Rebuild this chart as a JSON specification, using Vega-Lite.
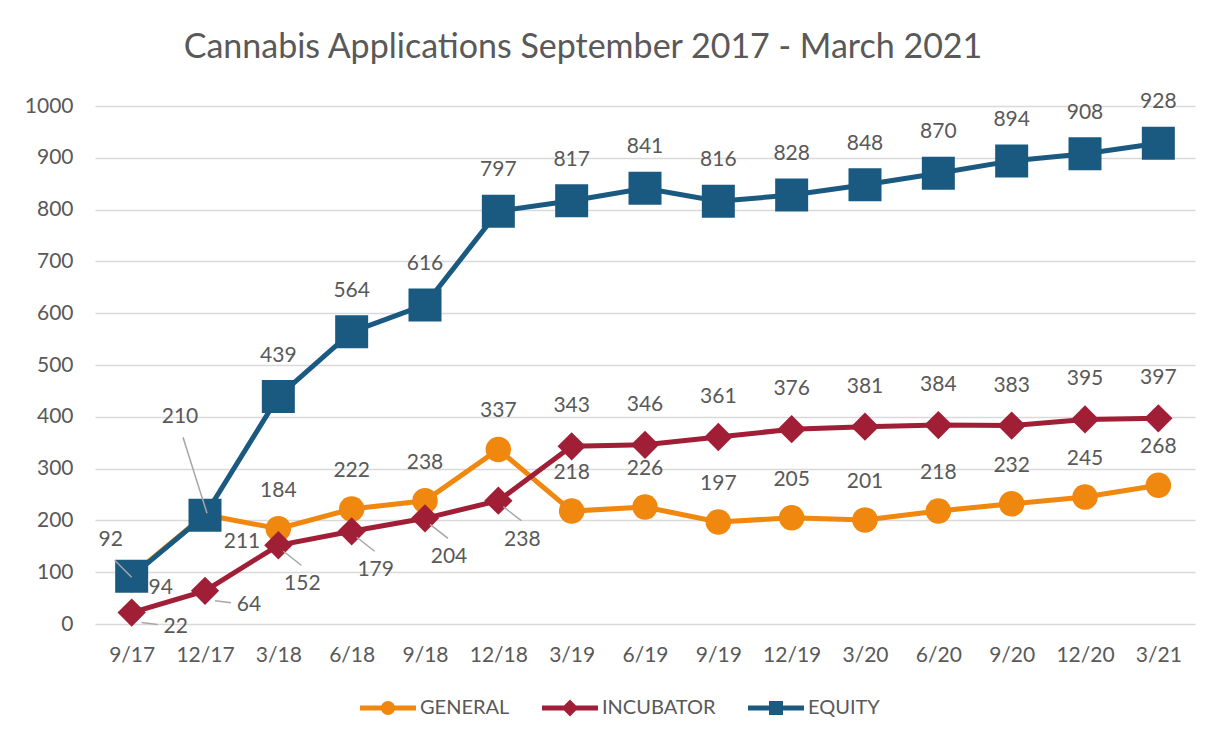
{
  "$schema": "https://vega.github.io/schema/vega-lite/v6.json",
  "width": 1100,
  "height": 518,
  "autosize": {"type": "none"},
  "padding": {"left": 95, "top": 106, "right": 11, "bottom": 118},
  "background": "white",
  "config": {"font": "Lato", "view": {"stroke": null}},
  "title": {"text": "Cannabis Applications September 2017 - March 2021", "fontSize": 34, "fontWeight": "normal", "color": "#595959", "anchor": "middle", "frame": "group", "dx": -62, "offset": 26, "font": "Lato"},
  "data": {"values": [
    {"date": "9/17", "series": "GENERAL", "value": 94},
    {"date": "12/17", "series": "GENERAL", "value": 211},
    {"date": "3/18", "series": "GENERAL", "value": 184},
    {"date": "6/18", "series": "GENERAL", "value": 222},
    {"date": "9/18", "series": "GENERAL", "value": 238},
    {"date": "12/18", "series": "GENERAL", "value": 337},
    {"date": "3/19", "series": "GENERAL", "value": 218},
    {"date": "6/19", "series": "GENERAL", "value": 226},
    {"date": "9/19", "series": "GENERAL", "value": 197},
    {"date": "12/19", "series": "GENERAL", "value": 205},
    {"date": "3/20", "series": "GENERAL", "value": 201},
    {"date": "6/20", "series": "GENERAL", "value": 218},
    {"date": "9/20", "series": "GENERAL", "value": 232},
    {"date": "12/20", "series": "GENERAL", "value": 245},
    {"date": "3/21", "series": "GENERAL", "value": 268},
    {"date": "9/17", "series": "INCUBATOR", "value": 22},
    {"date": "12/17", "series": "INCUBATOR", "value": 64},
    {"date": "3/18", "series": "INCUBATOR", "value": 152},
    {"date": "6/18", "series": "INCUBATOR", "value": 179},
    {"date": "9/18", "series": "INCUBATOR", "value": 204},
    {"date": "12/18", "series": "INCUBATOR", "value": 238},
    {"date": "3/19", "series": "INCUBATOR", "value": 343},
    {"date": "6/19", "series": "INCUBATOR", "value": 346},
    {"date": "9/19", "series": "INCUBATOR", "value": 361},
    {"date": "12/19", "series": "INCUBATOR", "value": 376},
    {"date": "3/20", "series": "INCUBATOR", "value": 381},
    {"date": "6/20", "series": "INCUBATOR", "value": 384},
    {"date": "9/20", "series": "INCUBATOR", "value": 383},
    {"date": "12/20", "series": "INCUBATOR", "value": 395},
    {"date": "3/21", "series": "INCUBATOR", "value": 397},
    {"date": "9/17", "series": "EQUITY", "value": 92},
    {"date": "12/17", "series": "EQUITY", "value": 210},
    {"date": "3/18", "series": "EQUITY", "value": 439},
    {"date": "6/18", "series": "EQUITY", "value": 564},
    {"date": "9/18", "series": "EQUITY", "value": 616},
    {"date": "12/18", "series": "EQUITY", "value": 797},
    {"date": "3/19", "series": "EQUITY", "value": 817},
    {"date": "6/19", "series": "EQUITY", "value": 841},
    {"date": "9/19", "series": "EQUITY", "value": 816},
    {"date": "12/19", "series": "EQUITY", "value": 828},
    {"date": "3/20", "series": "EQUITY", "value": 848},
    {"date": "6/20", "series": "EQUITY", "value": 870},
    {"date": "9/20", "series": "EQUITY", "value": 894},
    {"date": "12/20", "series": "EQUITY", "value": 908},
    {"date": "3/21", "series": "EQUITY", "value": 928}
  ]},
  "encoding": {
    "x": {"field": "date", "type": "ordinal", "sort": ["9/17","12/17","3/18","6/18","9/18","12/18","3/19","6/19","9/19","12/19","3/20","6/20","9/20","12/20","3/21"], "scale": {"type": "point", "padding": 0.5}, "axis": {"title": null, "labelAngle": 0, "labelFontSize": 21, "labelColor": "#595959", "labelPadding": 20, "ticks": false, "domain": false, "grid": false}},
    "y": {"field": "value", "type": "quantitative", "scale": {"domain": [0, 1000]}, "axis": {"title": null, "format": "d", "values": [0,100,200,300,400,500,600,700,800,900,1000], "labelFontSize": 21, "labelColor": "#595959", "labelPadding": 22, "ticks": false, "domain": false, "gridColor": "#D9D9D9", "gridWidth": 1.5}}
  },
  "layer": [
    {"transform": [{"filter": "datum.series === 'GENERAL'"}], "mark": {"type": "line", "strokeWidth": 5},
     "encoding": {"color": {"field": "series", "type": "nominal", "scale": {"domain": ["GENERAL","INCUBATOR","EQUITY"], "range": ["#F0870F","#A01F36","#1B5A80"]},
       "legend": {"title": null, "orient": "none", "legendX": 265, "legendY": 574, "direction": "horizontal", "symbolSize": 3136, "symbolStrokeWidth": 0, "labelFontSize": 20, "labelColor": "#595959", "labelOffset": 4, "columnPadding": 32,
         "encode": {"symbols": {"update": {"shape": {"signal": "datum.value === 'GENERAL' ? 'M-1,-0.09H1V0.09H-1Z M-0.25,0A0.25,0.25,0,1,1,0.25,0A0.25,0.25,0,1,1,-0.25,0Z' : datum.value === 'INCUBATOR' ? 'M-1,-0.09H1V0.09H-1Z M0,-0.3L0.3,0L0,0.3L-0.3,0Z' : 'M-1,-0.09H1V0.09H-1Z M-0.25,-0.25H0.25V0.25H-0.25Z'"}, "fill": {"scale": "color", "field": "value"}, "opacity": {"value": 1}}}}}}}},
    {"transform": [{"filter": "datum.series === 'GENERAL'"}], "mark": {"type": "point", "shape": "circle", "filled": true, "size": 650, "opacity": 1},
     "encoding": {"color": {"field": "series", "type": "nominal"}}},
    {"transform": [{"filter": "datum.series === 'INCUBATOR'"}], "mark": {"type": "line", "strokeWidth": 5},
     "encoding": {"color": {"field": "series", "type": "nominal"}}},
    {"transform": [{"filter": "datum.series === 'INCUBATOR'"}], "mark": {"type": "point", "shape": "diamond", "filled": true, "size": 800, "opacity": 1},
     "encoding": {"color": {"field": "series", "type": "nominal"}}},
    {"transform": [{"filter": "datum.series === 'EQUITY'"}], "mark": {"type": "line", "strokeWidth": 5},
     "encoding": {"color": {"field": "series", "type": "nominal"}}},
    {"transform": [{"filter": "datum.series === 'EQUITY'"}], "mark": {"type": "point", "shape": "square", "filled": true, "size": 1089, "opacity": 1},
     "encoding": {"color": {"field": "series", "type": "nominal"}}},
    {"transform": [{"filter": "datum.series === 'EQUITY' && datum.date === '9/17'"}], "mark": {"type": "rule", "color": "#A6A6A6", "strokeWidth": 1.5, "xOffset": -17, "yOffset": -16, "x2Offset": 0, "y2Offset": 1},
     "encoding": {"x2": {"field": "date"}, "y2": {"field": "value"}}},
    {"transform": [{"filter": "datum.series === 'EQUITY' && datum.date === '12/17'"}], "mark": {"type": "rule", "color": "#A6A6A6", "strokeWidth": 1.5, "xOffset": 2, "yOffset": -2, "x2Offset": -22, "y2Offset": -78},
     "encoding": {"x2": {"field": "date"}, "y2": {"field": "value"}}},
    {"transform": [{"filter": "datum.series === 'INCUBATOR' && indexof(['9/17','12/17'], datum.date) >= 0"}], "mark": {"type": "rule", "color": "#A6A6A6", "strokeWidth": 1.5, "xOffset": 10, "yOffset": 10, "x2Offset": 26, "y2Offset": 12},
     "encoding": {"x2": {"field": "date"}, "y2": {"field": "value"}}},
    {"transform": [{"filter": "datum.series === 'INCUBATOR' && indexof(['3/18','6/18','9/18','12/18'], datum.date) >= 0"}], "mark": {"type": "rule", "color": "#A6A6A6", "strokeWidth": 1.5, "xOffset": 5, "yOffset": 6, "x2Offset": 23, "y2Offset": 20},
     "encoding": {"x2": {"field": "date"}, "y2": {"field": "value"}}},
    {"transform": [{"filter": "datum.series === 'EQUITY' && indexof(['9/17','12/17'], datum.date) < 0"}], "mark": {"type": "text", "fontSize": 21, "color": "#595959", "baseline": "middle", "dy": -41},
     "encoding": {"text": {"field": "value", "type": "quantitative"}}},
    {"transform": [{"filter": "datum.series === 'EQUITY' && datum.date === '9/17'"}], "mark": {"type": "text", "fontSize": 21, "color": "#595959", "baseline": "middle", "dx": -21, "dy": -36},
     "encoding": {"text": {"field": "value", "type": "quantitative"}}},
    {"transform": [{"filter": "datum.series === 'EQUITY' && datum.date === '12/17'"}], "mark": {"type": "text", "fontSize": 21, "color": "#595959", "baseline": "middle", "dx": -25, "dy": -98},
     "encoding": {"text": {"field": "value", "type": "quantitative"}}},
    {"transform": [{"filter": "datum.series === 'GENERAL' && indexof(['9/17','12/17'], datum.date) < 0"}], "mark": {"type": "text", "fontSize": 21, "color": "#595959", "baseline": "middle", "dy": -38},
     "encoding": {"text": {"field": "value", "type": "quantitative"}}},
    {"transform": [{"filter": "datum.series === 'GENERAL' && datum.date === '9/17'"}], "mark": {"type": "text", "fontSize": 21, "color": "#595959", "baseline": "middle", "dx": 29, "dy": 13},
     "encoding": {"text": {"field": "value", "type": "quantitative"}}},
    {"transform": [{"filter": "datum.series === 'GENERAL' && datum.date === '12/17'"}], "mark": {"type": "text", "fontSize": 21, "color": "#595959", "baseline": "middle", "dx": 37, "dy": 27},
     "encoding": {"text": {"field": "value", "type": "quantitative"}}},
    {"transform": [{"filter": "datum.series === 'INCUBATOR' && indexof(['9/17','12/17','3/18','6/18','9/18','12/18'], datum.date) < 0"}], "mark": {"type": "text", "fontSize": 21, "color": "#595959", "baseline": "middle", "dy": -40},
     "encoding": {"text": {"field": "value", "type": "quantitative"}}},
    {"transform": [{"filter": "datum.series === 'INCUBATOR' && indexof(['9/17','12/17'], datum.date) >= 0"}], "mark": {"type": "text", "fontSize": 21, "color": "#595959", "baseline": "middle", "dx": 44, "dy": 14},
     "encoding": {"text": {"field": "value", "type": "quantitative"}}},
    {"transform": [{"filter": "datum.series === 'INCUBATOR' && indexof(['3/18','6/18','9/18','12/18'], datum.date) >= 0"}], "mark": {"type": "text", "fontSize": 21, "color": "#595959", "baseline": "middle", "dx": 24, "dy": 39},
     "encoding": {"text": {"field": "value", "type": "quantitative"}}}
  ]
}
